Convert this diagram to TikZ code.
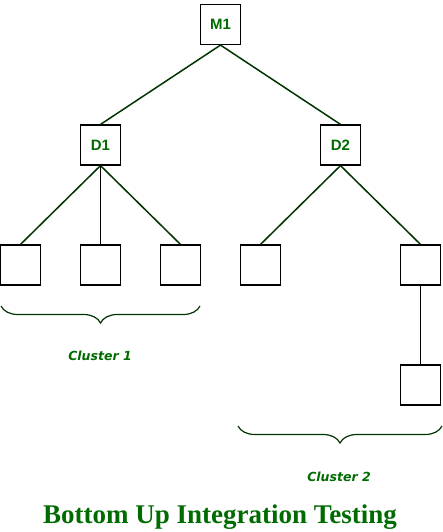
\documentclass[tikz,border=0pt]{standalone}
\usepackage{fontspec}
\setmainfont{Liberation Serif}
\newfontfamily\labelfont{Liberation Sans}
\newfontfamily\clusterfont{DejaVu Sans}
\usetikzlibrary{decorations.pathreplacing}
\definecolor{txtgreen}{HTML}{006B00}
\definecolor{linegreen}{HTML}{003300}
\begin{document}
\begin{tikzpicture}[x=1pt,y=-1pt,
  box/.style={draw=black,line width=1.2pt,minimum width=40pt,minimum height=40pt,inner sep=0pt,fill=white},
  lbl/.style={text=txtgreen,font=\labelfont\bfseries\fontsize{15}{17}\selectfont},
  edge/.style={draw=linegreen,line width=1.5pt},
  thin/.style={draw=black,line width=1pt},
  clbrace/.style={draw=linegreen,line width=1.2pt,decorate,decoration={brace,amplitude=17pt,mirror}},
  cltext/.style={text=txtgreen,font=\clusterfont\bfseries\itshape\fontsize{12.5}{14}\selectfont}]
\useasboundingbox (0,0) rectangle (443,532);
\node[box,lbl] (m1) at (220.5,24.5) {M1};
\node[box,lbl] (d1) at (100.5,145) {D1};
\node[box,lbl] (d2) at (340.5,145) {D2};
\node[box] (l1) at (20.5,265) {};
\node[box] (l2) at (100.5,265) {};
\node[box] (l3) at (180.5,265) {};
\node[box] (l4) at (260.5,265) {};
\node[box] (l5) at (420.5,265) {};
\node[box] (l6) at (420.5,385) {};
\draw[edge] (m1.south) -- (d1.north);
\draw[edge] (m1.south) -- (d2.north);
\draw[edge] (d1.south) -- (l1.north);
\draw[thin] (d1.south) -- (l2.north);
\draw[edge] (d1.south) -- (l3.north);
\draw[edge] (d2.south) -- (l4.north);
\draw[edge] (d2.south) -- (l5.north);
\draw[thin] (l5.south) -- (l6.north);
\coordinate (b1a) at (1,306);
\coordinate (b1b) at (200,306);
\coordinate (b2a) at (238,426);
\coordinate (b2b) at (442,426);
\draw[clbrace] (b1a) -- (b1b);
\draw[clbrace] (b2a) -- (b2b);
\node[cltext] (c1) at (100,356) {Cluster 1};
\node[cltext] (c2) at (339,477) {Cluster 2};
\node[text=txtgreen,font=\bfseries\fontsize{27}{30}\selectfont] (title) at (220,517) {Bottom Up Integration Testing};
\end{tikzpicture}
\end{document}
